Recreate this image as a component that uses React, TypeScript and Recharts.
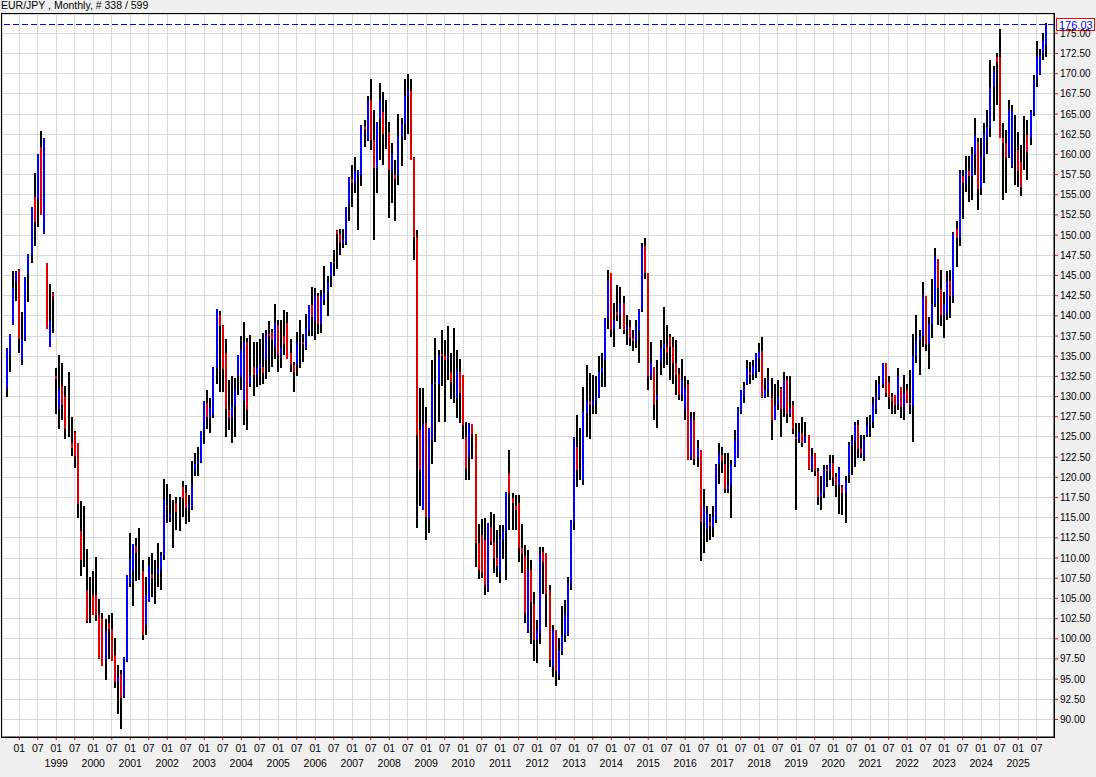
import React from 'react';
import { ComposedChart, Bar, XAxis, YAxis, CartesianGrid, ReferenceLine } from 'recharts';

const CHART_WIDTH = 1096;
const CHART_HEIGHT = 777;
const AXIS_WIDTH = 42;

// first bar of the chart is September 1997
const FIRST_YEAR = 1997;
const FIRST_MONTH = 9;

// monthly EUR/JPY, one line per calendar year
const opens = [
  131.1, 135.1, 139.0, 144.2,
  145.7, 134.5, 137.1, 145.2, 147.6, 154.7, 154.5, 160.9, 150.1, 146.5, 136.2, 142.8,
  132.6, 128.5, 131.3, 130.0, 128.3, 124.3, 125.5, 124.3, 113.3, 112.0, 106.1, 103.0,
  105.4, 105.4, 103.0, 102.4, 97.5, 102.0, 101.2, 98.0, 94.6, 95.6, 92.9, 97.3,
  106.8, 108.4, 111.5, 110.0, 108.4, 101.7, 104.5, 108.0, 107.5, 108.0, 108.6, 110.4,
  116.5, 114.9, 115.6, 116.8, 116.0, 118.8, 118.0, 116.2, 116.2, 121.0, 121.6, 121.9,
  125.9, 129.2, 127.5, 127.9, 133.7, 140.1, 138.7, 135.4, 128.3, 127.3, 128.8, 132.5,
  132.4, 129.5, 136.8, 131.5, 133.7, 132.7, 133.5, 133.7, 134.5, 137.8, 138.0, 136.2,
  138.9, 135.2, 137.5, 139.1, 135.4, 133.9, 133.9, 136.6, 136.8, 136.0, 138.3, 141.3,
  139.3, 142.5, 139.0, 142.0, 143.0, 144.9, 146.7, 150.5, 150.1, 149.0, 149.2, 153.7,
  157.0, 156.5, 157.5, 157.4, 163.5, 161.8, 166.7, 161.8, 158.3, 164.4, 165.3, 162.5,
  162.8, 158.1, 157.5, 157.4, 162.2, 163.8, 167.2, 167.8, 159.5, 149.8, 125.9, 116.0,
  126.7, 115.1, 124.6, 131.6, 131.6, 135.3, 135.0, 134.6, 133.1, 133.0, 129.8, 133.1,
  132.7, 125.0, 122.5, 126.6, 125.4, 111.8, 112.9, 112.2, 106.1, 113.9, 112.0, 110.0,
  108.3, 112.4, 113.3, 120.5, 117.4, 116.5, 116.8, 111.2, 110.2, 100.9, 108.5, 104.3,
  99.8, 100.6, 110.8, 110.6, 106.1, 96.5, 101.1, 95.5, 98.5, 100.5, 100.5, 106.9,
  114.5, 123.8, 120.9, 119.7, 128.0, 129.5, 129.0, 129.5, 130.0, 133.1, 134.5, 139.7,
  145.3, 138.2, 140.5, 140.1, 141.6, 138.3, 138.6, 137.2, 136.9, 138.3, 140.7, 148.7,
  145.3, 132.6, 133.7, 129.6, 134.3, 136.0, 136.2, 137.4, 136.2, 134.2, 132.8, 130.2,
  128.5, 131.6, 122.5, 127.1, 122.5, 123.4, 114.5, 113.5, 114.5, 113.9, 114.7, 121.7,
  122.8, 121.7, 118.6, 119.0, 121.5, 122.5, 128.3, 130.0, 131.5, 133.1, 132.7, 132.9,
  134.8, 135.6, 130.0, 130.8, 129.8, 127.1, 129.0, 130.9, 128.5, 132.0, 127.8, 129.0,
  125.0, 124.8, 125.5, 124.3, 125.2, 121.0, 123.0, 120.8, 117.5, 118.0, 121.0, 120.8,
  121.8, 120.0, 119.0, 118.8, 118.0, 120.3, 124.0, 124.5, 126.5, 123.5, 122.5, 125.2,
  126.5, 126.9, 128.5, 130.0, 131.5, 134.1, 131.8, 130.0, 130.2, 129.0, 131.2, 128.7,
  130.8, 129.2, 128.8, 135.0, 137.0, 137.5, 142.4, 136.5, 139.0, 141.5, 147.1, 143.2,
  140.1, 140.3, 144.3, 142.4, 150.8, 149.6, 157.3, 156.5, 157.9, 157.3, 160.0, 161.5,
  155.8, 159.5, 162.2, 163.4, 168.4, 172.1, 172.1, 162.0, 161.4, 159.9, 158.6, 162.0,
  160.6, 159.1, 161.0, 162.4, 162.0, 165.0, 169.6, 170.0, 172.5, 173.6,
];

const highs = [
  136.0, 137.8, 145.6, 145.6,
  145.8, 140.5, 144.8, 147.7, 153.5, 157.7, 160.1, 162.9, 162.0, 146.5, 143.9, 142.9,
  133.6, 135.1, 134.1, 131.3, 133.1, 127.5, 125.7, 124.3, 117.1, 116.5, 111.1, 107.6,
  108.4, 110.1, 104.9, 103.2, 102.4, 103.0, 103.2, 100.1, 96.7, 96.1, 97.8, 107.9,
  113.1, 111.7, 112.5, 113.7, 109.8, 107.7, 110.1, 110.6, 109.7, 111.8, 110.8, 119.8,
  119.2, 117.9, 117.2, 117.5, 117.5, 119.5, 119.0, 117.8, 122.0, 123.0, 123.8, 125.7,
  129.4, 130.8, 129.8, 133.7, 140.9, 140.6, 138.9, 137.1, 132.1, 132.5, 132.3, 135.1,
  137.5, 139.2, 137.3, 137.6, 136.7, 136.7, 137.1, 137.9, 138.3, 139.3, 138.4, 141.5,
  139.5, 139.5, 140.7, 140.5, 137.1, 134.3, 138.0, 139.5, 137.8, 140.2, 141.4, 143.6,
  143.4, 142.8, 143.2, 146.2, 144.9, 146.7, 148.1, 150.6, 150.8, 150.7, 153.5, 157.2,
  158.7, 159.7, 158.1, 163.6, 164.3, 167.2, 169.4, 165.5, 164.0, 168.9, 167.7, 166.7,
  164.0, 161.4, 159.3, 165.0, 164.5, 169.4, 170.0, 169.4, 159.7, 150.6, 131.0, 131.0,
  128.7, 126.1, 134.5, 137.2, 135.8, 138.3, 137.0, 138.7, 135.4, 138.5, 135.8, 134.6,
  132.7, 126.9, 126.7, 126.6, 125.4, 114.2, 114.8, 114.9, 114.4, 115.7, 115.5, 113.5,
  114.1, 114.1, 118.2, 123.4, 118.0, 117.8, 117.8, 114.2, 111.6, 111.0, 109.8, 105.8,
  102.3, 111.4, 111.4, 110.6, 106.7, 101.7, 101.1, 100.1, 104.0, 104.8, 107.7, 114.7,
  125.0, 127.7, 126.1, 131.2, 133.9, 132.9, 132.7, 132.5, 135.0, 135.4, 139.7, 145.7,
  145.3, 141.6, 143.8, 143.6, 142.5, 140.1, 139.5, 138.2, 139.5, 140.9, 149.0, 149.6,
  145.3, 136.8, 133.7, 134.5, 137.0, 141.1, 138.9, 137.8, 137.4, 137.0, 133.5, 134.6,
  132.5, 132.0, 128.1, 128.1, 124.6, 123.4, 118.6, 116.4, 115.5, 116.4, 121.7, 124.2,
  123.8, 123.0, 123.0, 122.1, 125.8, 128.7, 130.8, 131.8, 134.5, 134.3, 134.5, 135.4,
  136.6, 137.4, 132.3, 133.5, 132.3, 131.6, 132.1, 131.2, 133.1, 132.5, 132.5, 129.4,
  126.7, 126.7, 127.5, 126.9, 125.2, 123.6, 123.0, 121.1, 120.1, 121.5, 121.5, 122.8,
  122.8, 120.5, 121.3, 119.1, 120.1, 124.4, 125.2, 126.9, 127.1, 125.2, 125.2, 127.5,
  127.7, 130.0, 132.0, 132.5, 134.1, 134.1, 132.5, 130.4, 130.2, 133.5, 131.2, 132.7,
  131.6, 133.3, 137.8, 140.1, 138.2, 144.2, 142.4, 139.9, 144.6, 148.4, 147.1, 145.7,
  143.0, 145.5, 145.7, 150.4, 151.7, 158.1, 158.1, 159.8, 159.8, 160.9, 164.5, 162.0,
  162.0, 163.9, 165.5, 171.7, 170.9, 172.5, 175.5, 163.9, 163.0, 166.7, 166.1, 164.9,
  162.8, 161.2, 164.7, 164.3, 165.5, 169.8, 174.0, 173.1, 175.0, 176.3,
];

const lows = [
  129.9, 133.0, 138.9, 141.9,
  135.4, 133.9, 136.9, 141.7, 146.5, 148.6, 151.0, 152.5, 150.1, 138.4, 136.2, 137.9,
  127.8, 126.0, 127.1, 124.8, 125.0, 122.6, 121.1, 115.0, 107.8, 108.9, 102.0, 102.0,
  103.0, 102.2, 97.5, 96.6, 94.9, 97.5, 97.3, 93.9, 90.7, 88.8, 92.6, 97.1,
  106.4, 104.0, 107.1, 107.3, 99.9, 100.5, 104.5, 105.2, 104.3, 106.4, 106.0, 109.8,
  114.3, 114.5, 111.3, 113.5, 113.4, 115.1, 114.2, 114.5, 115.9, 120.1, 120.1, 121.8,
  124.1, 126.0, 125.5, 127.4, 131.6, 130.6, 130.6, 125.0, 125.9, 124.2, 125.0, 130.2,
  130.8, 126.5, 125.9, 131.2, 130.1, 131.2, 131.4, 131.6, 132.2, 133.0, 133.7, 134.7,
  133.0, 133.6, 135.1, 134.7, 133.1, 130.6, 132.5, 133.5, 134.3, 135.8, 137.5, 137.5,
  137.0, 137.8, 137.9, 141.3, 140.0, 143.6, 144.9, 145.8, 147.5, 148.4, 148.8, 151.7,
  153.5, 155.2, 150.6, 156.1, 160.9, 161.6, 160.5, 149.4, 155.2, 159.3, 158.7, 160.7,
  152.1, 154.0, 151.7, 156.2, 158.5, 161.8, 162.5, 159.3, 146.9, 113.7, 116.4, 115.9,
  112.2, 113.1, 121.6, 124.4, 126.9, 131.3, 126.9, 132.0, 129.7, 129.2, 127.3, 126.7,
  124.8, 119.7, 119.7, 122.3, 108.9, 107.4, 107.5, 105.4, 105.8, 111.6, 108.1, 107.6,
  106.9, 109.9, 107.3, 113.5, 113.5, 113.5, 109.5, 108.1, 101.9, 100.7, 99.4, 97.2,
  97.0, 99.4, 105.6, 101.5, 96.5, 95.3, 94.1, 94.9, 98.0, 99.6, 100.3, 106.0,
  113.5, 118.8, 119.7, 119.1, 125.0, 124.8, 127.9, 127.9, 129.8, 131.2, 131.2, 138.4,
  137.4, 136.2, 139.3, 138.4, 137.8, 136.4, 136.3, 135.6, 136.0, 134.1, 140.5, 144.6,
  130.8, 132.0, 127.1, 126.1, 132.7, 133.5, 133.9, 132.0, 131.6, 130.2, 129.6, 129.4,
  127.1, 122.1, 122.1, 121.5, 121.3, 109.6, 110.6, 112.0, 112.2, 112.6, 114.3, 119.2,
  120.5, 118.0, 118.0, 114.9, 121.3, 122.4, 127.9, 129.2, 131.4, 131.6, 132.1, 132.3,
  133.1, 129.8, 129.8, 130.0, 124.6, 127.1, 128.3, 125.0, 127.5, 126.7, 127.5, 125.4,
  115.9, 124.2, 123.8, 124.2, 120.9, 120.7, 120.1, 116.6, 115.9, 117.4, 118.8, 119.7,
  118.9, 117.5, 115.5, 115.3, 114.3, 119.3, 120.3, 121.3, 122.4, 122.4, 122.0, 125.0,
  125.0, 126.1, 127.9, 129.6, 131.0, 130.0, 128.5, 127.9, 127.9, 128.3, 127.3, 127.1,
  129.2, 127.9, 124.4, 134.1, 132.7, 136.2, 135.6, 133.4, 137.2, 141.1, 138.9, 138.7,
  137.2, 139.5, 139.7, 141.6, 146.1, 148.6, 152.0, 155.4, 154.1, 154.3, 157.5, 153.1,
  155.0, 156.4, 160.1, 162.2, 164.1, 166.1, 162.0, 154.4, 155.2, 159.5, 158.3, 156.2,
  156.0, 154.8, 158.1, 156.8, 161.2, 164.7, 168.4, 169.8, 171.7, 172.1,
];

const closes = [
  135.9, 137.7, 143.5, 145.4,
  137.1, 137.1, 144.8, 147.6, 153.5, 151.6, 160.1, 152.5, 162.0, 138.4, 139.3, 142.3,
  132.2, 131.0, 129.0, 126.0, 128.3, 123.6, 122.6, 116.7, 109.8, 112.0, 102.2, 103.0,
  103.0, 103.0, 97.6, 96.6, 101.0, 101.2, 97.3, 94.6, 95.3, 92.6, 97.8, 107.9,
  110.0, 111.7, 110.6, 110.0, 100.5, 105.4, 109.1, 107.5, 107.5, 108.6, 110.4, 117.2,
  116.3, 115.5, 115.6, 115.7, 116.0, 117.4, 116.2, 116.5, 119.0, 121.6, 122.0, 125.7,
  129.4, 127.5, 128.7, 133.7, 140.9, 138.7, 133.4, 128.5, 127.3, 128.8, 130.9, 135.1,
  135.8, 136.8, 128.3, 132.5, 132.7, 133.5, 134.0, 132.9, 137.8, 137.5, 137.0, 139.1,
  135.2, 136.0, 136.5, 134.7, 133.9, 133.0, 136.6, 136.8, 136.5, 138.5, 141.3, 139.9,
  142.5, 139.0, 142.5, 143.0, 144.2, 146.7, 146.5, 150.1, 149.0, 149.4, 153.5, 157.2,
  156.5, 158.0, 157.9, 163.5, 163.0, 166.6, 161.8, 158.3, 164.0, 166.9, 162.5, 162.5,
  158.1, 160.0, 157.0, 162.2, 163.8, 167.2, 167.8, 159.3, 149.8, 125.2, 120.9, 126.6,
  115.1, 126.0, 131.6, 131.8, 135.1, 135.0, 134.5, 135.0, 131.8, 133.0, 133.3, 130.5,
  126.5, 121.0, 126.7, 125.4, 111.8, 108.5, 108.2, 106.7, 114.4, 112.0, 110.0, 109.0,
  112.4, 113.3, 118.2, 118.0, 116.8, 116.0, 111.2, 110.5, 103.2, 108.5, 104.5, 99.8,
  101.0, 110.5, 109.5, 105.5, 97.4, 101.1, 96.0, 98.5, 100.5, 103.0, 106.9, 114.6,
  124.9, 120.9, 121.0, 128.1, 129.5, 129.0, 129.5, 130.0, 133.1, 133.5, 139.7, 144.5,
  138.2, 139.5, 140.1, 141.6, 138.3, 138.6, 137.2, 136.9, 138.6, 140.7, 148.7, 145.3,
  132.5, 134.2, 129.0, 130.1, 136.0, 136.5, 135.4, 136.2, 134.2, 132.7, 130.2, 132.0,
  131.0, 122.2, 127.3, 122.3, 123.6, 114.5, 116.3, 115.5, 114.0, 115.1, 121.5, 123.0,
  122.0, 118.5, 119.0, 121.5, 124.6, 128.5, 130.8, 131.0, 133.5, 132.7, 133.8, 135.4,
  135.6, 130.0, 130.8, 132.0, 127.1, 129.0, 130.0, 128.5, 132.0, 127.8, 128.5, 126.0,
  124.8, 125.5, 124.3, 125.0, 121.0, 122.7, 120.8, 117.5, 118.0, 121.0, 120.8, 121.8,
  120.0, 119.0, 121.0, 118.0, 119.5, 124.0, 124.5, 126.5, 123.5, 123.0, 124.8, 126.5,
  126.9, 129.0, 130.0, 131.5, 134.0, 130.4, 130.0, 129.5, 129.0, 132.5, 128.7, 130.5,
  129.2, 129.0, 135.0, 137.0, 137.5, 142.3, 136.5, 139.0, 141.5, 147.2, 143.5, 140.1,
  141.5, 144.3, 142.4, 150.1, 149.6, 157.7, 156.5, 158.0, 157.3, 160.0, 162.3, 155.7,
  159.5, 162.5, 163.4, 168.4, 170.5, 171.4, 162.0, 161.4, 159.6, 165.5, 165.4, 162.0,
  158.0, 156.0, 161.2, 160.3, 165.3, 169.3, 172.1, 172.3, 174.0, 176.0,
];

const priceTicks = [
  90, 92.5, 95, 97.5, 100, 102.5, 105, 107.5, 110, 112.5, 115, 117.5,
  120, 122.5, 125, 127.5, 130, 132.5, 135, 137.5, 140, 142.5, 145, 147.5,
  150, 152.5, 155, 157.5, 160, 162.5, 165, 167.5, 170, 172.5, 175,
];

const lastPrice = 176.03;

const candles = opens.map((open, i) => {
  const m = FIRST_MONTH - 1 + i;
  const month = `${FIRST_YEAR + Math.floor(m / 12)}-${String((m % 12) + 1).padStart(2, '0')}`;
  return { month, open, high: highs[i], low: lows[i], close: closes[i], range: [lows[i], highs[i]] };
});

const monthTicks = candles
  .map((c) => c.month)
  .filter((m) => m.endsWith('-01') || m.endsWith('-07'));

// thin candle: black high-low line, body coloured blue (up) or red (down)
const renderCandle = (props: any) => {
  const { x, y, width, height, payload } = props;
  const { open, high, low, close } = payload;
  const top = Math.min(y, y + height);
  const h = Math.abs(height);
  const cx = Math.round(x + width / 2);
  const perUnit = h / (high - low || 1);
  const bodyTop = top + (high - Math.max(open, close)) * perUnit;
  const bodyBottom = top + (high - Math.min(open, close)) * perUnit;
  const color = close > open ? '#0000ff' : '#e00000';
  return (
    <g shapeRendering="crispEdges">
      <rect x={cx - 1} y={top} width={2} height={h} fill="#000" />
      {close !== open && (
        <rect x={cx - 1} y={bodyTop} width={2} height={bodyBottom - bodyTop} fill={color} />
      )}
    </g>
  );
};

const MonthTick = (props: any) => {
  const { x, y, payload } = props;
  const [year, month] = String(payload.value).split('-');
  return (
    <g>
      <text x={x} y={y + 10.3} textAnchor="middle" fontSize={10.5} fill="#000">
        {month}
      </text>
      {month === '01' && Number(year) >= 1999 && (
        <text x={x} y={y + 25.3} textAnchor="middle" fontSize={10.5} fill="#000">
          {year}
        </text>
      )}
    </g>
  );
};

const LastPriceTag = (props: any) => {
  const { viewBox } = props;
  const y = Math.round(viewBox.y);
  const x = CHART_WIDTH - AXIS_WIDTH + 2;
  return (
    <g>
      <rect x={x + 0.5} y={y - 6.5} width={38} height={12} fill="#fff" stroke="#ff0000" />
      <text x={x + 3} y={y + 3.5} fontSize={11} fill="#0000ff">
        {lastPrice.toFixed(2)}
      </text>
    </g>
  );
};

export default function App() {
  return (
    <div
      style={{
        position: 'absolute',
        left: 0,
        top: 0,
        width: CHART_WIDTH,
        height: CHART_HEIGHT,
        background: '#f0f0f0',
        fontFamily: '"Liberation Sans", Arial, sans-serif',
      }}
    >
      <div style={{ position: 'absolute', left: 1, top: -1, fontSize: 10.5, lineHeight: '12px', color: '#000' }}>
        EUR/JPY , Monthly, # 338 / 599
      </div>
      <ComposedChart
        width={CHART_WIDTH}
        height={CHART_HEIGHT}
        data={candles}
        margin={{ top: 14, right: 0, bottom: 0, left: 2 }}
        barCategoryGap={0}
      >
        <CartesianGrid stroke="#d9d9d9" fill="#ffffff" shapeRendering="crispEdges" />
        <XAxis
          dataKey="month"
          ticks={monthTicks}
          interval={0}
          height={40}
          padding={{ left: 3.4, right: 6.5 }}
          tick={<MonthTick />}
          tickSize={3}
          tickMargin={2}
          tickLine={{ stroke: '#ff0000' }}
          axisLine={{ stroke: '#000' }}
        />
        <YAxis
          orientation="right"
          width={AXIS_WIDTH}
          domain={[87.83, 177.39]}
          ticks={priceTicks}
          interval={0}
          allowDataOverflow
          tickFormatter={(v: number) => v.toFixed(2)}
          tick={{ fill: '#000', fontSize: 10 }}
          tickSize={4}
          tickMargin={2}
          tickLine={{ stroke: '#ff0000' }}
          axisLine={{ stroke: '#000' }}
        />
        <Bar dataKey="range" shape={renderCandle} isAnimationActive={false} />
        <ReferenceLine
          y={lastPrice}
          stroke="#0000ff"
          strokeDasharray="6 3"
          shapeRendering="crispEdges"
          label={<LastPriceTag />}
        />
      </ComposedChart>
      <div
        style={{
          position: 'absolute',
          left: 1,
          top: 13,
          width: 1054,
          height: 725,
          border: '1px solid #000',
          boxSizing: 'border-box',
          pointerEvents: 'none',
        }}
      />
    </div>
  );
}
